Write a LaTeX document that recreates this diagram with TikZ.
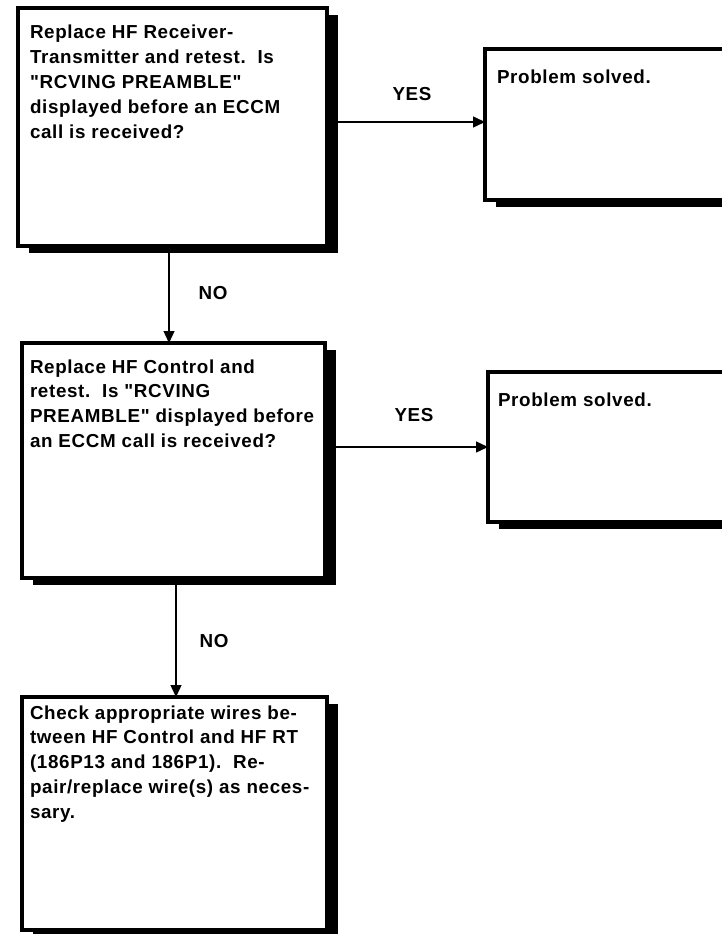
\documentclass[tikz,border=0pt]{standalone}
\usepackage{fontspec}
\setmainfont{Liberation Sans}[LetterSpace=3.5, Ligatures=TeXOff]
\usetikzlibrary{arrows.meta,shadows}
\newcommand{\boxtxt}[4]{\parbox[t][#2][t]{#1}{\raggedright\rule{0pt}{#3}#4}}
\newcommand{\dq}{\symbol{34}}
\begin{document}
\begin{tikzpicture}[x=1pt,y=-1pt,
  txt/.style={font=\fontsize{18.8}{24.8}\selectfont\bfseries},
  fbox/.style={txt, draw, line width=3.5pt, fill=white, anchor=north west,
    outer sep=0pt, inner ysep=0pt,
    drop shadow={shadow xshift=11pt, shadow yshift=-7pt, opacity=1, fill=black}},
  lbl/.style={txt, inner sep=0pt},
  arr/.style={line width=1.4pt, -{Triangle[length=12pt,width=11pt]}}]
\useasboundingbox (0,0) rectangle (721,934);

\node[fbox, inner xsep=12pt] (b1) at (18,8)
  {\boxtxt{285pt}{238pt}{31pt}{Replace HF Receiver-\\Transmitter and retest.\ \ Is\\\dq RCVING PREAMBLE\dq\\displayed before an ECCM\\call is received?}};
\node[fbox, inner xsep=12pt] (b2) at (485,49)
  {\boxtxt{241pt}{151pt}{35pt}{Problem solved.}};
\node[fbox, inner xsep=8pt] (b3) at (22,343)
  {\boxtxt{287pt}{235pt}{30pt}{Replace HF Control and\\retest.\ \ Is \dq RCVING\\PREAMBLE\dq{} displayed before\\an ECCM call is received?}};
\node[fbox, inner xsep=10pt] (b4) at (488,372)
  {\boxtxt{242pt}{150pt}{34pt}{Problem solved.}};
\node[fbox, inner xsep=8pt] (b5) at (22,697)
  {\boxtxt{289pt}{233pt}{22pt}{Check appropriate wires be-\\tween HF Control and HF RT\\(186P13 and 186P1).\ \ Re-\\pair/replace wire(s) as neces-\\sary.}};

\coordinate (v1) at (169,0);
\coordinate (v2) at (176,0);
\coordinate (h1) at (0,122);
\coordinate (h2) at (0,447);

\draw[arr] (b1.east |- h1) -- (b2.west |- h1);
\draw[arr] (b3.east |- h2) -- (b4.west |- h2);
\draw[arr] (b1.south -| v1) -- (b3.north -| v1);
\draw[arr] (b3.south -| v2) -- (b5.north -| v2);

\node[lbl] (yes1) at (412,94) {YES};
\node[lbl] (no1) at (213,293.5) {NO};
\node[lbl] (yes2) at (414,415) {YES};
\node[lbl] (no2) at (214,641) {NO};
\end{tikzpicture}
\end{document}
